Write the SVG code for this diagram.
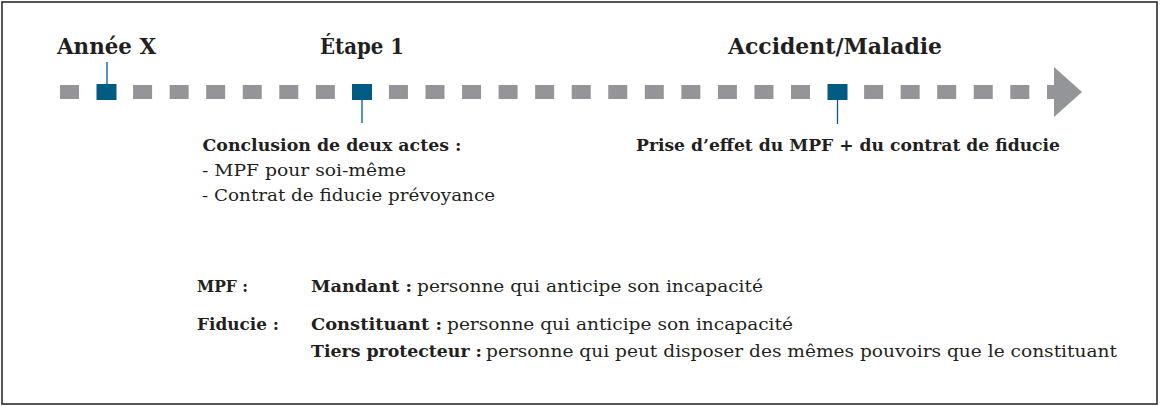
<svg xmlns="http://www.w3.org/2000/svg" width="1160" height="406" viewBox="0 0 1160 406">
  <style>
    .frame { fill: #ffffff; stroke: #2b2b2b; stroke-width: 1.6; }
    .dash { fill: #939598; }
    .mark { fill: #005b82; }
    .tick { stroke: #005b82; stroke-width: 1.3; fill: none; }
    .title { font-family: "DejaVu Serif", "Liberation Serif", serif; font-weight: bold; font-size: 23px; fill: #231f20; }
    .b { font-family: "DejaVu Serif", "Liberation Serif", serif; font-weight: bold; font-size: 17px; fill: #231f20; }
    .r { font-family: "DejaVu Serif", "Liberation Serif", serif; font-size: 16.5px; fill: #231f20; }
  </style>
  <defs>
    <rect id="d" class="dash" width="19" height="14"/>
    <rect id="m" class="mark" width="20" height="16"/>
  </defs>
  <rect class="frame" x="2" y="2" width="1155" height="402"/>

  <g id="timeline">
    <use href="#d" x="60" y="85"/>
    <use href="#d" x="133.1" y="85"/>
    <use href="#d" x="169.65" y="85"/>
    <use href="#d" x="206.2" y="85"/>
    <use href="#d" x="242.75" y="85"/>
    <use href="#d" x="279.3" y="85"/>
    <use href="#d" x="315.85" y="85"/>
    <use href="#d" x="388.95" y="85"/>
    <use href="#d" x="425.5" y="85"/>
    <use href="#d" x="462.05" y="85"/>
    <use href="#d" x="498.6" y="85"/>
    <use href="#d" x="535.15" y="85"/>
    <use href="#d" x="571.7" y="85"/>
    <use href="#d" x="608.25" y="85"/>
    <use href="#d" x="644.8" y="85"/>
    <use href="#d" x="681.35" y="85"/>
    <use href="#d" x="717.9" y="85"/>
    <use href="#d" x="754.45" y="85"/>
    <use href="#d" x="791" y="85"/>
    <use href="#d" x="864.1" y="85"/>
    <use href="#d" x="900.65" y="85"/>
    <use href="#d" x="937.2" y="85"/>
    <use href="#d" x="973.75" y="85"/>
    <use href="#d" x="1010.3" y="85"/>
    <polygon class="dash" points="1047,85 1054,85 1054,67 1082,92 1054,117 1054,99 1047,99"/>
  </g>

  <g id="node-annee-x">
    <text class="title" x="57" y="54" textLength="99" lengthAdjust="spacingAndGlyphs">Année X</text>
    <use href="#m" x="96.5" y="84"/>
  </g>

  <g id="node-etape-1">
    <text class="title" x="320" y="54" textLength="84" lengthAdjust="spacingAndGlyphs">Étape 1</text>
    <use href="#m" x="352" y="84"/>
    <text class="b" x="202.5" y="151" textLength="259" lengthAdjust="spacingAndGlyphs">Conclusion de deux actes :</text>
    <text class="r" x="202" y="176" textLength="204" lengthAdjust="spacingAndGlyphs">- MPF pour soi-même</text>
    <text class="r" x="202" y="201" textLength="293" lengthAdjust="spacingAndGlyphs">- Contrat de fiducie prévoyance</text>
  </g>

  <g id="node-accident">
    <text class="title" x="728" y="54" textLength="214" lengthAdjust="spacingAndGlyphs">Accident/Maladie</text>
    <use href="#m" x="827.5" y="84"/>
    <text class="b" x="636" y="150.5" textLength="424" lengthAdjust="spacingAndGlyphs">Prise d’effet du MPF + du contrat de fiducie</text>
  </g>

  <g id="connectors">
    <line class="tick" x1="107" y1="62" x2="107" y2="84"/>
    <line class="tick" x1="362" y1="100" x2="362" y2="123"/>
    <line class="tick" x1="837.5" y1="100" x2="837.5" y2="124"/>
  </g>

  <g id="legend">
    <text class="b" x="197" y="292" textLength="51" lengthAdjust="spacingAndGlyphs">MPF :</text>
    <text class="b" x="311" y="292" textLength="101" lengthAdjust="spacingAndGlyphs">Mandant :</text>
    <text class="r" x="417" y="292" textLength="346" lengthAdjust="spacingAndGlyphs">personne qui anticipe son incapacité</text>
    <text class="b" x="197" y="329.5" textLength="82" lengthAdjust="spacingAndGlyphs">Fiducie :</text>
    <text class="b" x="311" y="329.5" textLength="131" lengthAdjust="spacingAndGlyphs">Constituant :</text>
    <text class="r" x="447" y="329.5" textLength="346" lengthAdjust="spacingAndGlyphs">personne qui anticipe son incapacité</text>
    <text class="b" x="311" y="356.5" textLength="171" lengthAdjust="spacingAndGlyphs">Tiers protecteur :</text>
    <text class="r" x="486" y="356.5" textLength="631" lengthAdjust="spacingAndGlyphs">personne qui peut disposer des mêmes pouvoirs que le constituant</text>
  </g>
</svg>
